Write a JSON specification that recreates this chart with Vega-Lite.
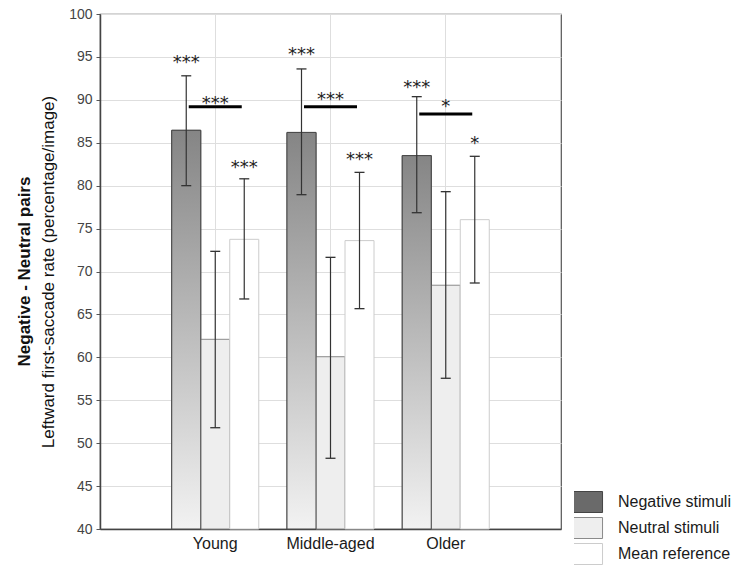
{
  "$schema": "https://vega.github.io/schema/vega-lite/v6.json",
  "autosize": {"type": "none"},
  "width": 461,
  "height": 515,
  "padding": {"left": 100, "top": 14, "right": 184, "bottom": 37},
  "background": "white",
  "title": {
    "text": "Negative - Neutral pairs",
    "orient": "left",
    "anchor": "middle",
    "font": "Liberation Sans",
    "fontSize": 17,
    "fontWeight": "bold",
    "color": "#111",
    "offset": 5
  },
  "config": {
    "font": "Liberation Sans",
    "view": {"stroke": "#555", "strokeWidth": 1.2},
    "axis": {"labelFont": "Liberation Sans", "titleFont": "Liberation Sans"}
  },
  "datasets": {
    "bars": [
      {"group": "Young", "series": "Negative stimuli", "value": 86.45, "lo": 80.0, "hi": 92.8},
      {"group": "Young", "series": "Neutral stimuli", "value": 62.1, "lo": 51.8, "hi": 72.35},
      {"group": "Young", "series": "Mean reference", "value": 73.75, "lo": 66.8, "hi": 80.8},
      {"group": "Middle-aged", "series": "Negative stimuli", "value": 86.2, "lo": 78.95, "hi": 93.6},
      {"group": "Middle-aged", "series": "Neutral stimuli", "value": 60.07, "lo": 48.24, "hi": 71.65},
      {"group": "Middle-aged", "series": "Mean reference", "value": 73.6, "lo": 65.67, "hi": 81.55},
      {"group": "Older", "series": "Negative stimuli", "value": 83.5, "lo": 76.85, "hi": 90.37},
      {"group": "Older", "series": "Neutral stimuli", "value": 68.4, "lo": 57.56, "hi": 79.3},
      {"group": "Older", "series": "Mean reference", "value": 76.04, "lo": 68.66, "hi": 83.42}
    ],
    "stars": [
      {"group": "Young", "series": "Negative stimuli", "y": 94.76, "label": "***"},
      {"group": "Young", "series": "Neutral stimuli", "y": 90.0, "label": "***"},
      {"group": "Young", "series": "Mean reference", "y": 82.5, "label": "***"},
      {"group": "Middle-aged", "series": "Negative stimuli", "y": 95.7, "label": "***"},
      {"group": "Middle-aged", "series": "Neutral stimuli", "y": 90.4, "label": "***"},
      {"group": "Middle-aged", "series": "Mean reference", "y": 83.4, "label": "***"},
      {"group": "Older", "series": "Negative stimuli", "y": 91.9, "label": "***"},
      {"group": "Older", "series": "Neutral stimuli", "y": 89.6, "label": "*"},
      {"group": "Older", "series": "Mean reference", "y": 85.3, "label": "*"}
    ],
    "brackets": [
      {"group": "Young", "series": "Neutral stimuli", "y": 89.2},
      {"group": "Middle-aged", "series": "Neutral stimuli", "y": 89.2},
      {"group": "Older", "series": "Neutral stimuli", "y": 88.35}
    ]
  },
  "encoding": {
    "x": {
      "field": "group",
      "type": "nominal",
      "sort": ["Young", "Middle-aged", "Older"],
      "scale": {"paddingInner": 0.245, "paddingOuter": 0.6225},
      "axis": {
        "title": null,
        "labelAngle": 0,
        "labelFontSize": 16,
        "labelColor": "#1a1a1a",
        "labelPadding": 9,
        "bandPosition": 0.5,
        "grid": true,
        "gridColor": "#dedede",
        "domainColor": "#444",
        "domainWidth": 1.5,
        "tickColor": "#444",
        "tickSize": -3
      }
    },
    "xOffset": {
      "field": "series",
      "type": "nominal",
      "scale": {"domain": ["Negative stimuli", "Neutral stimuli", "Mean reference"], "paddingInner": 0, "paddingOuter": 0}
    }
  },
  "layer": [
    {
      "data": {"name": "bars"},
      "mark": {"type": "bar", "strokeWidth": 1, "opacity": 1},
      "encoding": {
        "y": {
          "field": "value",
          "type": "quantitative",
          "scale": {"domain": [40, 100], "nice": false, "zero": false},
          "axis": {
            "values": [40, 45, 50, 55, 60, 65, 70, 75, 80, 85, 90, 95, 100],
            "title": "Leftward first-saccade rate (percentage/image)",
            "titleFontSize": 17,
            "titleFontWeight": "normal",
            "titleColor": "#111",
            "titleAngle": -90,
            "titleAlign": "center",
            "titleBaseline": "middle",
            "titleX": -52,
            "titleY": 257.5,
            "labelFontSize": 14,
            "labelColor": "#444",
            "labelPadding": 4,
            "tickSize": 4,
            "tickColor": "#555",
            "domainColor": "#444",
            "domainWidth": 1.5,
            "gridColor": "#dedede"
          }
        },
        "y2": {"datum": 40},
        "color": {
          "field": "series",
          "type": "nominal",
          "scale": {"domain": ["Negative stimuli", "Neutral stimuli", "Mean reference"], "range": ["#6a6a6a", "#eeeeee", "#ffffff"]},
          "legend": {
            "title": null,
            "orient": "none",
            "legendX": 474,
            "legendY": 477,
            "symbolType": "M-1.67,-1H1.67V1H-1.67Z",
            "symbolSize": 441,
            "symbolStrokeWidth": 1,
            "symbolOpacity": 1,
            "clipHeight": 22,
            "labelFontSize": 16,
            "labelColor": "#1a1a1a",
            "labelOffset": 22,
            "rowPadding": 4,
            "labelLimit": 200
          }
        },
        "stroke": {
          "field": "series",
          "type": "nominal",
          "scale": {"domain": ["Negative stimuli", "Neutral stimuli", "Mean reference"], "range": ["#444444", "#8a8a8a", "#cccccc"]}
        }
      }
    },
    {
      "data": {"name": "bars"},
      "transform": [{"filter": "datum.series === 'Negative stimuli'"}],
      "mark": {
        "type": "bar",
        "stroke": "#4a4a4a",
        "strokeWidth": 1,
        "opacity": 1,
        "color": {
          "gradient": "linear",
          "x1": 0, "y1": 0, "x2": 0, "y2": 1,
          "stops": [
            {"offset": 0, "color": "#858585"},
            {"offset": 1, "color": "#f2f2f2"}
          ]
        }
      },
      "encoding": {
        "y": {"field": "value", "type": "quantitative"},
        "y2": {"datum": 40}
      }
    },
    {
      "data": {"name": "bars"},
      "mark": {"type": "rule", "color": "#333", "strokeWidth": 1.2, "opacity": 1},
      "encoding": {
        "y": {"field": "lo", "type": "quantitative"},
        "y2": {"field": "hi"}
      }
    },
    {
      "data": {"name": "bars"},
      "mark": {"type": "tick", "color": "#333", "size": 10, "thickness": 1.3, "orient": "horizontal", "opacity": 1},
      "encoding": {"y": {"field": "lo", "type": "quantitative"}}
    },
    {
      "data": {"name": "bars"},
      "mark": {"type": "tick", "color": "#333", "size": 10, "thickness": 1.3, "orient": "horizontal", "opacity": 1},
      "encoding": {"y": {"field": "hi", "type": "quantitative"}}
    },
    {
      "data": {"name": "brackets"},
      "mark": {"type": "tick", "color": "#000", "size": 53, "thickness": 3, "orient": "horizontal", "xOffset": 5, "opacity": 1},
      "encoding": {"y": {"field": "y", "type": "quantitative"}}
    },
    {
      "data": {"name": "stars"},
      "mark": {"type": "text", "font": "DejaVu Sans", "fontSize": 18, "color": "#222", "baseline": "middle", "dy": 4},
      "encoding": {
        "y": {"field": "y", "type": "quantitative"},
        "text": {"field": "label"}
      }
    }
  ]
}
